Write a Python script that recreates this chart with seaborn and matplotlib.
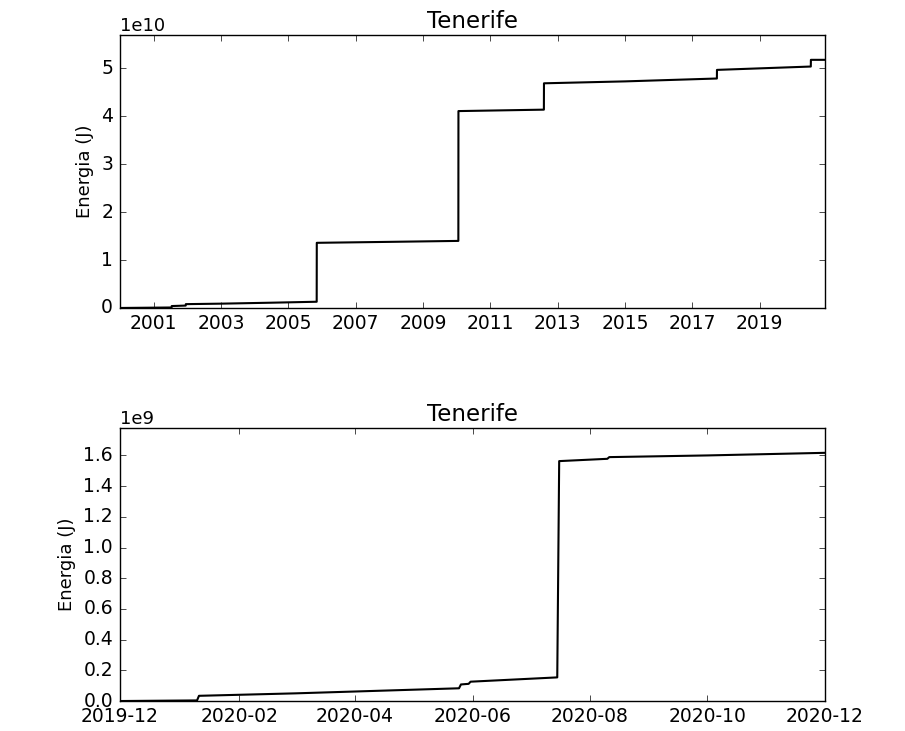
import pandas as pd
import matplotlib
matplotlib.use("Agg")
import matplotlib.pyplot as plt
import matplotlib.dates as mdates
import seaborn as sns

# Cumulative seismic energy, Tenerife, 2000-2020 (units of 1e10 J)
# jumps are given as two points one day apart
fechas_total = ["2000-01-01", "2001-07-14", "2001-07-15", "2001-12-14", "2001-12-15",
                "2003-01-01", "2004-07-01", "2005-11-04", "2005-11-05", "2008-01-01",
                "2010-01-19", "2010-01-20", "2012-08-04", "2012-08-05", "2015-01-01",
                "2017-09-24", "2017-09-25", "2020-07-09", "2020-07-10", "2020-12-10"]
energia_total = [0.0, 0.01, 0.04, 0.05, 0.08,
                 0.09, 0.11, 0.13, 1.36, 1.38,
                 1.40, 4.11, 4.14, 4.69, 4.73,
                 4.79, 4.97, 5.04, 5.18, 5.18]

# Cumulative energy, last year (units of 1e9 J)
fechas_anual = ["2019-12-01", "2020-01-10", "2020-01-11", "2020-03-01", "2020-05-25",
                "2020-05-26", "2020-05-30", "2020-05-31", "2020-07-15", "2020-07-16",
                "2020-08-10", "2020-08-11", "2020-10-01", "2020-12-01"]
energia_anual = [0.0, 0.004, 0.034, 0.05, 0.083,
                 0.108, 0.112, 0.126, 0.154, 1.563,
                 1.578, 1.589, 1.600, 1.617]

ticks_total = ["2001", "2003", "2005", "2007", "2009", "2011", "2013", "2015", "2017", "2019"]

df_total = pd.DataFrame({"fecha": pd.to_datetime(fechas_total),
                         "energia": [v * 1e10 for v in energia_total]})
df_anual = pd.DataFrame({"fecha": pd.to_datetime(fechas_anual),
                         "energia": [v * 1e9 for v in energia_anual]})

plt.style.use("classic")
plt.rcParams["font.family"] = ["DejaVu Sans"]
plt.rcParams["font.size"] = 13
plt.rcParams["xtick.labelsize"] = 13.5
plt.rcParams["ytick.labelsize"] = 13.5
plt.rcParams["xtick.major.pad"] = 4
plt.rcParams["ytick.major.pad"] = 5

fig = plt.figure(figsize=(9.05, 7.31), dpi=100, facecolor="white")
ax1 = fig.add_axes([0.1326, 0.5787, 0.779, 0.3734])
ax2 = fig.add_axes([0.1326, 0.041, 0.779, 0.3735])

#Top: whole catalogue
sns.lineplot(x="fecha", y="energia", data=df_total, ax=ax1, color="black",
             estimator=None, linewidth=1.5)
ax1.set_xlim(pd.Timestamp("2000-01-01"), pd.Timestamp("2020-12-10"))
ax1.set_ylim(0, df_total["energia"].max() * 1.1)
ax1.set_xticks([pd.Timestamp(y + "-01-01") for y in ticks_total])
ax1.xaxis.set_major_formatter(mdates.DateFormatter("%Y"))

#Bottom: last year
sns.lineplot(x="fecha", y="energia", data=df_anual, ax=ax2, color="black",
             estimator=None, linewidth=1.5)
ax2.set_xlim(pd.Timestamp("2019-12-01"), pd.Timestamp("2020-12-01"))
ax2.set_ylim(0, df_anual["energia"].max() * 1.1)
ax2.xaxis.set_major_locator(mdates.MonthLocator(bymonth=[2, 4, 6, 8, 10, 12]))
ax2.xaxis.set_major_formatter(mdates.DateFormatter("%Y-%m"))

for ax in (ax1, ax2):
    ax.set_facecolor("white")
    ax.set_title("Tenerife", fontsize=16.5)
    ax.set_xlabel("")
    ax.set_ylabel("Energia (J)", fontsize=13)
    ax.yaxis.get_offset_text().set_fontsize(13)

fig.savefig("out.png", dpi=100, facecolor="white")
